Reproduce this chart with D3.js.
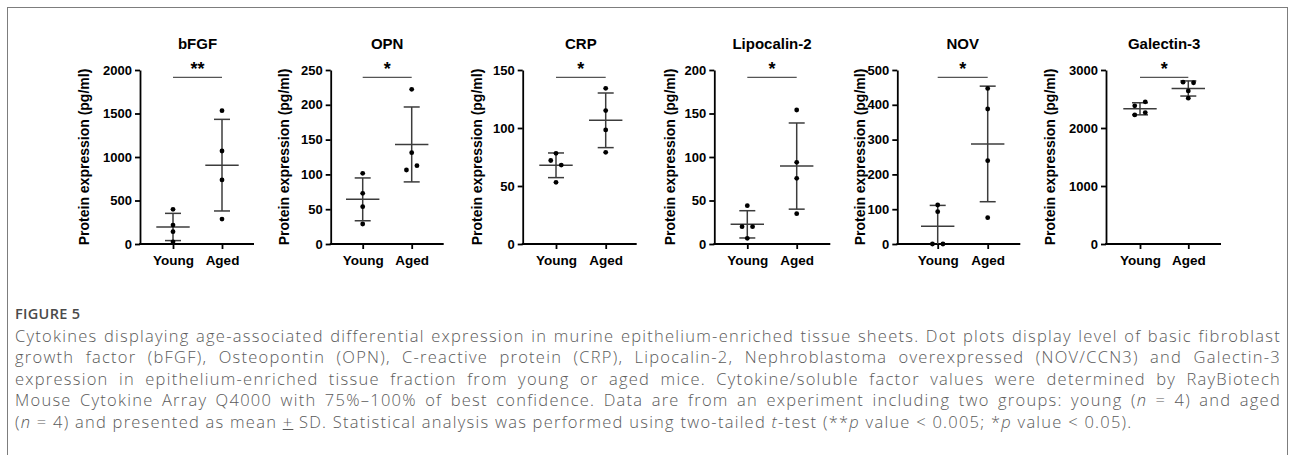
<!DOCTYPE html>
<html lang="en">
<head>
<meta charset="UTF-8">
<title>Figure 5</title>
<script src="https://d3js.org/d3.v7.min.js"></script>
<style>
    body { margin: 0; background: #fff; }
    #wrap { position: relative; width: 1293px; height: 455px; overflow: hidden; }
    #canvas { position: absolute; left: 0; top: 0; }
    #caption {
        position: absolute;
        left: 15px;
        top: 303px;
        width: 1266px;
        font-family: "Open Sans", sans-serif;
        font-weight: 300;
        font-size: 16.5px;
        letter-spacing: 1.25px;
        line-height: 21.6px;
        color: #5a5a5a;
    }
    #caption .head { font-size: 14.5px; font-weight: 600; letter-spacing: 0.3px; color: #4a4a4a; }
    #caption .line { text-align: justify; text-align-last: justify; }
    #caption .line.last { text-align-last: left; }
    .axis text { font-family: "Liberation Sans", Arial, sans-serif; font-weight: bold; font-size: 13px; fill: #000; }
</style>
</head>
<body>
<div id="wrap">
    <svg id="canvas" width="1293" height="455"></svg>
    <div id="caption">
        <div class="head">FIGURE 5</div>
        <div class="line">Cytokines displaying age-associated differential expression in murine epithelium-enriched tissue sheets. Dot plots display level of basic fibroblast</div>
        <div class="line">growth factor (bFGF), Osteopontin (OPN), C-reactive protein (CRP), Lipocalin-2, Nephroblastoma overexpressed (NOV/CCN3) and Galectin-3</div>
        <div class="line">expression in epithelium-enriched tissue fraction from young or aged mice. Cytokine/soluble factor values were determined by RayBiotech</div>
        <div class="line">Mouse Cytokine Array Q4000 with 75%–100% of best confidence. Data are from an experiment including two groups: young (<i>n</i> = 4) and aged</div>
        <div class="line last">(<i>n</i> = 4) and presented as mean <u>+</u> SD. Statistical analysis was performed using two-tailed <i>t</i>-test (**<i>p</i> value &lt; 0.005; *<i>p</i> value &lt; 0.05).</div>
    </div>
</div>
<script>
    // data (pg/ml)
    const groups = ["Young", "Aged"];
    const titles = ["bFGF", "OPN", "CRP", "Lipocalin-2", "NOV", "Galectin-3"];
    const stars = ["**", "*", "*", "*", "*", "*"];
    const yMax = [2000, 250, 150, 200, 500, 3000];
    const yTicks = [
        [0, 500, 1000, 1500, 2000],
        [0, 50, 100, 150, 200, 250],
        [0, 50, 100, 150],
        [0, 50, 100, 150, 200],
        [0, 100, 200, 300, 400, 500],
        [0, 1000, 2000, 3000]
    ];
    const youngValues = [
        [398, 218, 142, 25],
        [101.5, 72.8, 53.6, 28.7],
        [78.2, 72, 68, 53.2],
        [44.1, 19.9, 19.9, 6.5],
        [112, 93, 0, 0],
        [2382, 2451, 2225, 2266]
    ];
    const agedValues = [
        [1533, 1069, 736, 287],
        [222.2, 131.2, 106.3, 112.5],
        [134.2, 115, 98.3, 79],
        [154, 93.9, 75.5, 34.9],
        [447, 388, 239.5, 75.7],
        [2790, 2780, 2640, 2515]
    ];

    // panel layout (pixels)
    const panels = [
        {ax: 140,   young: 33,   aged: 82,   len: 114, lab: -51},
        {ax: 330.7, young: 32,   aged: 81,   len: 113, lab: -42},
        {ax: 522.7, young: 33.3, aged: 83,   len: 114, lab: -41},
        {ax: 714.3, young: 33,   aged: 82.4, len: 116, lab: -39},
        {ax: 897.3, young: 40.4, aged: 90.4, len: 123, lab: -32},
        {ax: 1106,  young: 34,   aged: 82.3, len: 115, lab: -51}
    ];
    const yTop = 70, yBot = 244;

    let svg = d3.select("#canvas");

    // figure frame
    svg.append("rect")
        .attr("x", 7.5).attr("y", 7.5)
        .attr("width", 1280).attr("height", 470)
        .attr("fill", "none")
        .attr("stroke", "#7d7d7d")
        .attr("stroke-width", 1);

    // spread points that would overlap, like a scatter dot plot
    function swarm(vals, y, cx) {
        let pts = vals.map((v, i) => ({v: v, i: i, py: y(v)}));
        let sorted = pts.slice().sort((a, b) => a.py - b.py);
        let rows = [];
        sorted.forEach(function (p) {
            let last = rows[rows.length - 1];
            if (last && Math.abs(p.py - last[last.length - 1].py) < 5.5) last.push(p);
            else rows.push([p]);
        });
        rows.forEach(function (r) {
            r.sort((a, b) => a.i - b.i);
            r.forEach(function (p, k) {
                p.x = cx + (k - (r.length - 1) / 2) * 10.5;
            });
        });
        return pts;
    }

    panels.forEach(function (p, idx) {
        let g = svg.append("g");
        let y = d3.scaleLinear().domain([0, yMax[idx]]).range([yBot, yTop]);
        let x = d3.scalePoint().domain(groups).range([p.ax + p.young, p.ax + p.aged]);

        // y axis
        let yAxis = g.append("g")
            .attr("class", "axis")
            .attr("transform", "translate(" + p.ax + ",0)")
            .call(d3.axisLeft(y).tickValues(yTicks[idx]).tickFormat(d3.format("d"))
                .tickSize(5).tickSizeOuter(0).tickPadding(3));
        yAxis.selectAll("path, line").attr("stroke", "#000").attr("stroke-width", 1.8);

        // x axis
        let xAxis = g.append("g")
            .attr("class", "axis")
            .attr("transform", "translate(0," + yBot + ")")
            .call(d3.axisBottom(x).tickSize(5).tickSizeOuter(0).tickPadding(6));
        xAxis.select(".domain").attr("d", "M" + (p.ax - 0.9) + ",0H" + (p.ax + p.len));
        xAxis.selectAll("path, line").attr("stroke", "#000").attr("stroke-width", 1.8);
        xAxis.selectAll("text").style("font-size", "13.5px");

        // y label
        g.append("text")
            .attr("transform", "translate(" + (p.ax + p.lab) + "," + ((yTop + yBot) / 2) + ") rotate(-90)")
            .attr("text-anchor", "middle")
            .style("font-family", "'Liberation Sans', Arial, sans-serif")
            .style("font-weight", "bold")
            .style("font-size", "14px")
            .text("Protein expression (pg/ml)");

        // title
        let cx = (x("Young") + x("Aged")) / 2;
        g.append("text")
            .attr("x", cx).attr("y", 49)
            .attr("text-anchor", "middle")
            .style("font-family", "'Liberation Sans', Arial, sans-serif")
            .style("font-weight", "bold")
            .style("font-size", "15px")
            .text(titles[idx]);

        // significance bar
        g.append("line")
            .attr("x1", x("Young")).attr("x2", x("Aged"))
            .attr("y1", 77.3).attr("y2", 77.3)
            .attr("stroke", "#555").attr("stroke-width", 1.3);
        g.append("text")
            .attr("x", cx).attr("y", 75)
            .attr("text-anchor", "middle")
            .style("font-family", "'Liberation Sans', Arial, sans-serif")
            .style("font-weight", "bold")
            .style("font-size", "18px")
            .text(stars[idx]);

        [youngValues[idx], agedValues[idx]].forEach(function (vals, gi) {
            let gx = x(groups[gi]);
            let mean = d3.mean(vals);
            let sd = d3.deviation(vals);
            let lo = Math.max(0, mean - sd);
            let hi = mean + sd;
            let eb = g.append("g")
                .attr("stroke", "#3c3c3c")
                .attr("stroke-width", 1.5);
            eb.append("line").attr("x1", gx).attr("x2", gx).attr("y1", y(lo)).attr("y2", y(hi));
            eb.append("line").attr("x1", gx - 8).attr("x2", gx + 8).attr("y1", y(hi)).attr("y2", y(hi));
            if (mean - sd >= 0) {
                eb.append("line").attr("x1", gx - 8).attr("x2", gx + 8).attr("y1", y(lo)).attr("y2", y(lo));
            }
            eb.append("line").attr("x1", gx - 16.7).attr("x2", gx + 16.7).attr("y1", y(mean)).attr("y2", y(mean));

            g.selectAll(".dot" + gi)
                .data(swarm(vals, y, gx))
                .enter().append("circle")
                .attr("cx", d => d.x)
                .attr("cy", d => d.py)
                .attr("r", 2.4)
                .attr("fill", "#000");
        });
    });
</script>
</body>
</html>
